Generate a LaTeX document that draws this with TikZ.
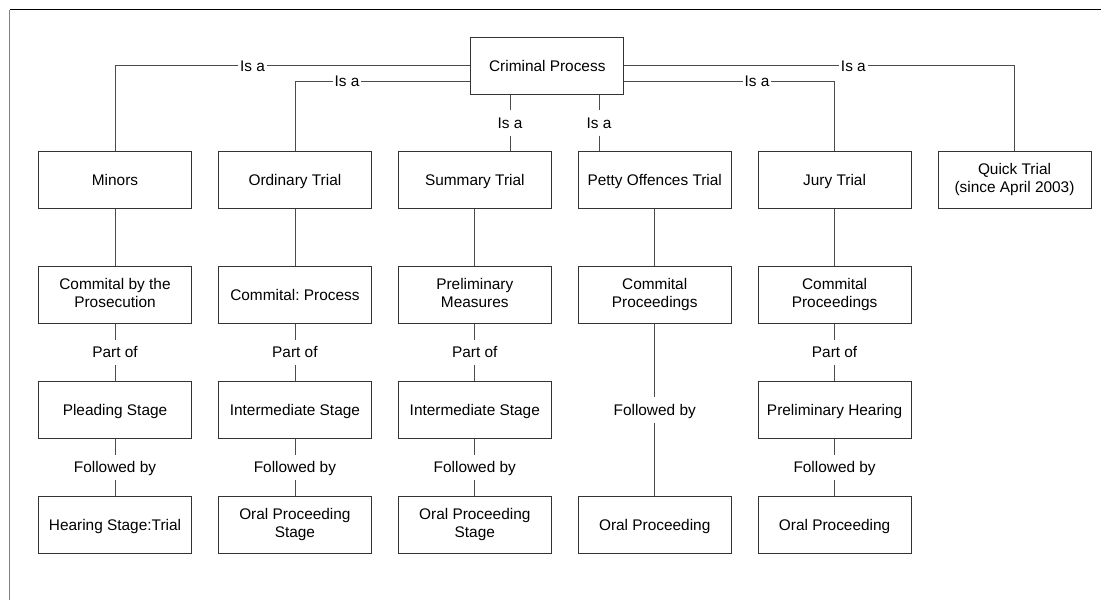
\documentclass[tikz,border=0pt]{standalone}
\usepackage{fontspec}
\setmainfont{Liberation Sans}
\usepackage{tikz}
\usetikzlibrary{calc,positioning}
\frenchspacing

\begin{document}
\begin{tikzpicture}[x=1pt,y=-1pt,
	stage/.style={draw=black!80, line width=0.9pt, minimum width=153pt, minimum height=57pt,
		align=center, inner sep=2pt, font=\fontsize{15.4}{18.5}\selectfont,
		execute at begin node={\rule[-4pt]{0pt}{19pt}},
		execute at end node={\rule[-4pt]{0pt}{19pt}}},
	rel/.style={inner xsep=1.6pt, inner ysep=7pt, text height=11pt, text depth=0pt,
		font=\fontsize{15.4}{18.5}\selectfont},
	link/.style={draw=black!70, line width=0.8pt}]
	\newcommand{\boxGap}{26pt}
	\newcommand{\rowGap}{57pt}

	\useasboundingbox (0,0) rectangle (1101,600);

	% frame
	\draw[gray, line width=1.4pt] (9.5,600) -- (9.5,9.5);
	\draw[black, line width=1.4pt] (9.5,9.5) -- (1101,9.5);

	% root and kinds of trial
	\node[stage] (crim) at (547.3,65.7) {Criminal Process};
	\node[stage] (minors) at (115,180) {Minors};
	\node[stage, right=\boxGap of minors] (ordinary) {Ordinary Trial};
	\node[stage, right=\boxGap of ordinary] (summary) {Summary Trial};
	\node[stage, right=\boxGap of summary] (petty) {Petty Offences Trial};
	\node[stage, right=\boxGap of petty] (jury) {Jury Trial};
	\node[stage, right=\boxGap of jury] (quick) {Quick Trial\\(since April 2003)};

	% second row
	\node[stage, below=\rowGap of minors] (minors_commital) {Commital by the\\Prosecution};
	\node[stage, below=\rowGap of ordinary] (ordinary_commital) {Commital: Process};
	\node[stage, below=\rowGap of summary] (summary_measures) {Preliminary\\Measures};
	\node[stage, below=\rowGap of petty] (petty_commital) {Commital\\Proceedings};
	\node[stage, below=\rowGap of jury] (jury_commital) {Commital\\Proceedings};

	% third row
	\node[stage, below=\rowGap of minors_commital] (minors_pleading) {Pleading Stage};
	\node[stage, below=\rowGap of ordinary_commital] (ordinary_inter) {Intermediate Stage};
	\node[stage, below=\rowGap of summary_measures] (summary_inter) {Intermediate Stage};
	\node[stage, below=\rowGap of jury_commital] (jury_hearing) {Preliminary Hearing};

	% fourth row
	\node[stage, below=\rowGap of minors_pleading] (minors_trial) {Hearing Stage:Trial};
	\node[stage, below=\rowGap of ordinary_inter] (ordinary_oral) {Oral Proceeding\\Stage};
	\node[stage, below=\rowGap of summary_inter] (summary_oral) {Oral Proceeding\\Stage};
	\node[stage, right=\boxGap of summary_oral] (petty_oral) {Oral Proceeding};
	\node[stage, below=\rowGap of jury_hearing] (jury_oral) {Oral Proceeding};

	% is a links
	\coordinate (crim_left_low) at ($(crim.west)+(0,15.5)$);
	\coordinate (crim_right_low) at ($(crim.east)+(0,15.5)$);
	\coordinate (crim_bottom_a) at ($(crim.south)+(-37.3,0)$);
	\coordinate (crim_bottom_b) at ($(crim.south)+(51.7,0)$);

	\node[rel] (isa_minors) at (252.5,65.7) {Is a};
	\node[rel] (isa_ordinary) at (347,81.2) {Is a};
	\node[rel] (isa_jury) at (757,81.2) {Is a};
	\node[rel] (isa_quick) at (853.4,65.7) {Is a};
	\node[rel] (isa_summary) at ($(crim_bottom_a)!0.5!(crim_bottom_a |- summary.north)$) {Is a};
	\node[rel] (isa_petty) at ($(crim_bottom_b)!0.5!(crim_bottom_b |- petty.north)$) {Is a};

	\draw[link] (crim.west) -- (isa_minors) -| (minors.north);
	\draw[link] (crim_left_low) -- (isa_ordinary) -| (ordinary.north);
	\draw[link] (crim_right_low) -- (isa_jury) -| (jury.north);
	\draw[link] (crim.east) -- (isa_quick) -| (quick.north);
	\draw[link] (crim_bottom_a) -- (isa_summary) -- (isa_summary |- summary.north);
	\draw[link] (crim_bottom_b) -- (isa_petty) -- (isa_petty |- petty.north);

	% plain links
	\draw[link] (minors) -- (minors_commital);
	\draw[link] (ordinary) -- (ordinary_commital);
	\draw[link] (summary) -- (summary_measures);
	\draw[link] (petty) -- (petty_commital);
	\draw[link] (jury) -- (jury_commital);

	% part of
	\node[rel] (part_minors) at ($(minors_commital)!0.5!(minors_pleading)$) {Part of};
	\node[rel] (part_ordinary) at ($(ordinary_commital)!0.5!(ordinary_inter)$) {Part of};
	\node[rel] (part_summary) at ($(summary_measures)!0.5!(summary_inter)$) {Part of};
	\node[rel] (part_jury) at ($(jury_commital)!0.5!(jury_hearing)$) {Part of};
	\draw[link] (minors_commital) -- (part_minors) -- (minors_pleading);
	\draw[link] (ordinary_commital) -- (part_ordinary) -- (ordinary_inter);
	\draw[link] (summary_measures) -- (part_summary) -- (summary_inter);
	\draw[link] (jury_commital) -- (part_jury) -- (jury_hearing);

	% followed by
	\node[rel] (next_minors) at ($(minors_pleading)!0.5!(minors_trial)$) {Followed by};
	\node[rel] (next_ordinary) at ($(ordinary_inter)!0.5!(ordinary_oral)$) {Followed by};
	\node[rel] (next_summary) at ($(summary_inter)!0.5!(summary_oral)$) {Followed by};
	\node[rel] (next_petty) at ($(petty_commital)!0.5!(petty_oral)$) {Followed by};
	\node[rel] (next_jury) at ($(jury_hearing)!0.5!(jury_oral)$) {Followed by};
	\draw[link] (minors_pleading) -- (next_minors) -- (minors_trial);
	\draw[link] (ordinary_inter) -- (next_ordinary) -- (ordinary_oral);
	\draw[link] (summary_inter) -- (next_summary) -- (summary_oral);
	\draw[link] (petty_commital) -- (next_petty) -- (petty_oral);
	\draw[link] (jury_hearing) -- (next_jury) -- (jury_oral);
\end{tikzpicture}
\end{document}
